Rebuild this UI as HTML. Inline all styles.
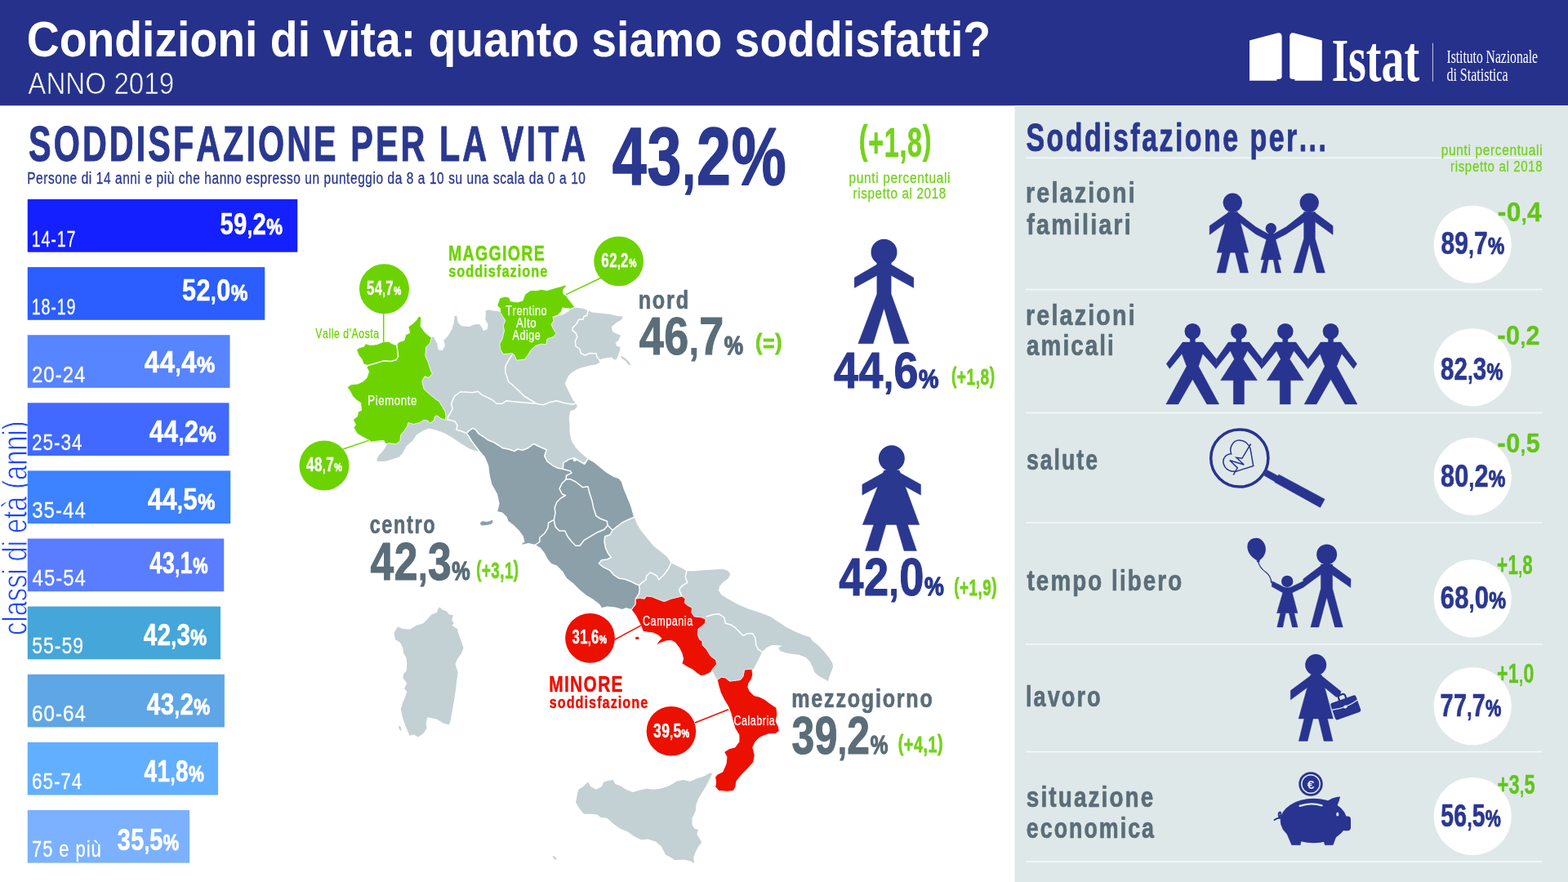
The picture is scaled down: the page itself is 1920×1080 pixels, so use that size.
<!DOCTYPE html>
<html lang="it">
<head>
<meta charset="utf-8">
<title>Condizioni di vita: quanto siamo soddisfatti? - Anno 2019</title>
<style>
html,body{margin:0;padding:0;background:#fff;overflow:hidden}
body{width:1920px;height:1080px}
svg{display:block}
text{font-family:"Liberation Sans",sans-serif;font-kerning:none;white-space:pre}
text.b{font-weight:bold}
text.r{font-weight:normal}
text.sr{font-family:"Liberation Serif",serif;font-weight:normal}
text.sb{font-family:"Liberation Serif",serif;font-weight:bold}
</style>
</head>
<body>
<svg width="1920" height="1080" viewBox="0 0 1920 1080">
<rect width="1920" height="1080" fill="#ffffff"/>
<g id="header">
<rect x="0" y="0" width="1920" height="129.3" fill="#25318b"/>
<text class="b" x="32.73" y="69.30" font-size="60.50" textLength="1180.46" lengthAdjust="spacingAndGlyphs" fill="#ffffff">Condizioni di vita: quanto siamo soddisfatti?</text>
<text class="r" x="34.24" y="115.00" font-size="36.30" textLength="179.04" lengthAdjust="spacingAndGlyphs" fill="#ffffff" stroke="#25318b" stroke-width="0.7">ANNO 2019</text>
<path d="M1530 49.5 L1564 40.4 Q1569.6 39.3 1569.6 45 L1569.6 94.3 Q1569.6 96.6 1567 96.8 L1563.4 97 L1563.4 98.8 L1530 98.8 Z" fill="#ffffff"/>
<path d="M1618.8 49.5 L1584.8 40.4 Q1579.2 39.3 1579.2 45 L1579.2 94.3 Q1579.2 96.6 1581.8 96.8 L1585.4 97 L1585.4 98.8 L1618.8 98.8 Z" fill="#ffffff"/>
<text class="sb" x="1630.63" y="99.20" font-size="74.80" textLength="107.61" lengthAdjust="spacingAndGlyphs" fill="#ffffff">I<tspan font-size="80.00">stat</tspan></text>
<rect x="1753.9" y="52.8" width="1" height="47" fill="#ffffff" opacity="0.75"/>
<text class="sr" x="1771.44" y="77.30" font-size="22.30" textLength="111.51" lengthAdjust="spacingAndGlyphs" fill="#ffffff">Istituto Nazionale</text>
<text class="sr" x="1771.42" y="98.80" font-size="22.30" textLength="75.10" lengthAdjust="spacingAndGlyphs" fill="#ffffff">di Statistica</text>
</g>
<g id="panel">
<rect x="1242.5" y="129.3" width="677.5" height="950.7" fill="#dfe8e9"/>
<rect x="1256" y="192.55" width="632.5" height="1.5" fill="#f5f9f9"/>
<rect x="1256" y="353.75" width="632.5" height="1.5" fill="#f5f9f9"/>
<rect x="1256" y="504.75" width="632.5" height="1.5" fill="#f5f9f9"/>
<rect x="1256" y="639.25" width="632.5" height="1.5" fill="#f5f9f9"/>
<rect x="1256" y="788.05" width="632.5" height="1.5" fill="#f5f9f9"/>
<rect x="1256" y="919.85" width="632.5" height="1.5" fill="#f5f9f9"/>
<rect x="1256" y="1054.35" width="632.5" height="1.5" fill="#f5f9f9"/>
<text class="b" x="1256.47" y="185.05" font-size="47.39" textLength="369.91" lengthAdjust="spacingAndGlyphs" fill="#2a3890" stroke="#2a3890" stroke-width="0.90" stroke-linejoin="round" letter-spacing="3.50">Soddisfazione per...</text>
<text class="r" x="1764.76" y="189.60" font-size="18.16" textLength="124.56" lengthAdjust="spacingAndGlyphs" fill="#74d21c" stroke="#74d21c" stroke-width="0.30" stroke-linejoin="round" letter-spacing="0.80">punti percentuali</text>
<text class="r" x="1776.05" y="209.60" font-size="18.16" textLength="113.21" lengthAdjust="spacingAndGlyphs" fill="#74d21c" stroke="#74d21c" stroke-width="0.30" stroke-linejoin="round" letter-spacing="0.80">rispetto al 2018</text>
<text class="b" x="1255.96" y="248.40" font-size="34.48" textLength="135.89" lengthAdjust="spacingAndGlyphs" fill="#5a6d79" stroke="#5a6d79" stroke-width="0.70" stroke-linejoin="round" letter-spacing="2.60">relazioni</text>
<text class="b" x="1257.36" y="287.15" font-size="34.48" textLength="129.48" lengthAdjust="spacingAndGlyphs" fill="#5a6d79" stroke="#5a6d79" stroke-width="0.70" stroke-linejoin="round" letter-spacing="2.60">familiari</text>
<text class="b" x="1255.96" y="397.95" font-size="34.48" textLength="135.89" lengthAdjust="spacingAndGlyphs" fill="#5a6d79" stroke="#5a6d79" stroke-width="0.70" stroke-linejoin="round" letter-spacing="2.60">relazioni</text>
<text class="b" x="1257.04" y="435.15" font-size="34.48" textLength="108.88" lengthAdjust="spacingAndGlyphs" fill="#5a6d79" stroke="#5a6d79" stroke-width="0.70" stroke-linejoin="round" letter-spacing="2.60">amicali</text>
<text class="b" x="1256.91" y="575.35" font-size="34.48" textLength="89.06" lengthAdjust="spacingAndGlyphs" fill="#5a6d79" stroke="#5a6d79" stroke-width="0.70" stroke-linejoin="round" letter-spacing="2.60">salute</text>
<text class="b" x="1257.51" y="723.35" font-size="34.48" textLength="191.72" lengthAdjust="spacingAndGlyphs" fill="#5a6d79" stroke="#5a6d79" stroke-width="0.70" stroke-linejoin="round" letter-spacing="2.60">tempo libero</text>
<text class="b" x="1255.95" y="865.35" font-size="34.48" textLength="93.81" lengthAdjust="spacingAndGlyphs" fill="#5a6d79" stroke="#5a6d79" stroke-width="0.70" stroke-linejoin="round" letter-spacing="2.60">lavoro</text>
<text class="b" x="1256.87" y="987.85" font-size="34.48" textLength="157.54" lengthAdjust="spacingAndGlyphs" fill="#5a6d79" stroke="#5a6d79" stroke-width="0.70" stroke-linejoin="round" letter-spacing="2.60">situazione</text>
<text class="b" x="1256.80" y="1025.75" font-size="34.48" textLength="158.20" lengthAdjust="spacingAndGlyphs" fill="#5a6d79" stroke="#5a6d79" stroke-width="0.70" stroke-linejoin="round" letter-spacing="2.60">economica</text>
<circle cx="1803.2" cy="299.2" r="47.5" fill="#ffffff"/>
<text class="b" x="1764.40" y="310.90" font-size="39.68" textLength="78.05" lengthAdjust="spacingAndGlyphs" fill="#2a3890" stroke="#2a3890" stroke-width="0.70" stroke-linejoin="round" letter-spacing="0.40">89<tspan font-size="30.73">,</tspan><tspan>7</tspan><tspan font-size="29.98" stroke="#2a3890" stroke-width="1.08">%</tspan></text>
<text class="b" x="1833.71" y="270.70" font-size="33.62" textLength="54.48" lengthAdjust="spacingAndGlyphs" fill="#62c51a" stroke="#62c51a" stroke-width="0.40" stroke-linejoin="round" letter-spacing="0.50">-0<tspan font-size="26.09">,</tspan><tspan>4</tspan></text>
<circle cx="1803.2" cy="449.75" r="47.5" fill="#ffffff"/>
<text class="b" x="1763.92" y="465.15" font-size="39.68" textLength="76.62" lengthAdjust="spacingAndGlyphs" fill="#2a3890" stroke="#2a3890" stroke-width="0.70" stroke-linejoin="round" letter-spacing="0.40">82<tspan font-size="30.73">,</tspan><tspan>3</tspan><tspan font-size="29.98" stroke="#2a3890" stroke-width="1.08">%</tspan></text>
<text class="b" x="1833.51" y="421.95" font-size="33.62" textLength="52.47" lengthAdjust="spacingAndGlyphs" fill="#62c51a" stroke="#62c51a" stroke-width="0.40" stroke-linejoin="round" letter-spacing="0.50">-0<tspan font-size="26.09">,</tspan><tspan>2</tspan></text>
<circle cx="1803.2" cy="583.25" r="47.5" fill="#ffffff"/>
<text class="b" x="1763.88" y="595.90" font-size="39.68" textLength="79.69" lengthAdjust="spacingAndGlyphs" fill="#2a3890" stroke="#2a3890" stroke-width="0.70" stroke-linejoin="round" letter-spacing="0.40">80<tspan font-size="30.73">,</tspan><tspan>2</tspan><tspan font-size="29.98" stroke="#2a3890" stroke-width="1.08">%</tspan></text>
<text class="b" x="1833.51" y="554.45" font-size="33.62" textLength="52.60" lengthAdjust="spacingAndGlyphs" fill="#62c51a" stroke="#62c51a" stroke-width="0.40" stroke-linejoin="round" letter-spacing="0.50">-0<tspan font-size="26.09">,</tspan><tspan>5</tspan></text>
<circle cx="1803.2" cy="732.75" r="47.5" fill="#ffffff"/>
<text class="b" x="1763.72" y="744.65" font-size="39.68" textLength="80.61" lengthAdjust="spacingAndGlyphs" fill="#2a3890" stroke="#2a3890" stroke-width="0.70" stroke-linejoin="round" letter-spacing="0.40">68<tspan font-size="30.73">,</tspan><tspan>0</tspan><tspan font-size="29.98" stroke="#2a3890" stroke-width="1.08">%</tspan></text>
<text class="b" x="1833.01" y="703.20" font-size="33.62" textLength="44.06" lengthAdjust="spacingAndGlyphs" fill="#62c51a" stroke="#62c51a" stroke-width="0.40" stroke-linejoin="round" letter-spacing="0.50">+1<tspan font-size="26.09">,</tspan><tspan>8</tspan></text>
<circle cx="1803.2" cy="864.75" r="47.5" fill="#ffffff"/>
<text class="b" x="1763.61" y="876.65" font-size="39.68" textLength="74.90" lengthAdjust="spacingAndGlyphs" fill="#2a3890" stroke="#2a3890" stroke-width="0.70" stroke-linejoin="round" letter-spacing="0.40">77<tspan font-size="30.73">,</tspan><tspan>7</tspan><tspan font-size="29.98" stroke="#2a3890" stroke-width="1.08">%</tspan></text>
<text class="b" x="1832.98" y="835.70" font-size="33.62" textLength="45.61" lengthAdjust="spacingAndGlyphs" fill="#62c51a" stroke="#62c51a" stroke-width="0.40" stroke-linejoin="round" letter-spacing="0.50">+1<tspan font-size="26.09">,</tspan><tspan>0</tspan></text>
<circle cx="1803.2" cy="999.5" r="47.5" fill="#ffffff"/>
<text class="b" x="1764.28" y="1011.65" font-size="39.68" textLength="73.92" lengthAdjust="spacingAndGlyphs" fill="#2a3890" stroke="#2a3890" stroke-width="0.70" stroke-linejoin="round" letter-spacing="0.40">56<tspan font-size="30.73">,</tspan><tspan>5</tspan><tspan font-size="29.98" stroke="#2a3890" stroke-width="1.08">%</tspan></text>
<text class="b" x="1833.41" y="971.90" font-size="33.62" textLength="46.60" lengthAdjust="spacingAndGlyphs" fill="#62c51a" stroke="#62c51a" stroke-width="0.40" stroke-linejoin="round" letter-spacing="0.50">+3<tspan font-size="26.09">,</tspan><tspan>5</tspan></text>
<circle cx="1509.3" cy="248.3" r="11.7" fill="#28348f"/>
<path d="M1503.9 259.5 L1515.4 259.5 L1528.8 309.3 L1490.1 309.3Z" fill="#28348f" stroke="#28348f" stroke-width="0.4" stroke-linejoin="round"/>
<path d="M1504.5 260.0 L1481.1 276.6 L1481.1 287.4 L1502.5 271.7Z" fill="#28348f" stroke="#28348f" stroke-width="0.4" stroke-linejoin="round"/>
<path d="M1514.8 260.0 L1537.6 277.8 L1553.0 286.5 L1552.0 294.0 L1537.6 286.8 L1517.5 271.7Z" fill="#28348f" stroke="#28348f" stroke-width="0.4" stroke-linejoin="round"/>
<path d="M1496.7 309.0 L1506.3 309.0 L1500.7 334.1 L1490.1 334.1Z" fill="#28348f" stroke="#28348f" stroke-width="0.4" stroke-linejoin="round"/>
<path d="M1512.3 309.0 L1522.6 309.0 L1528.6 334.1 L1518.6 334.1Z" fill="#28348f" stroke="#28348f" stroke-width="0.4" stroke-linejoin="round"/>
<circle cx="1556.3" cy="279.8" r="6.7" fill="#28348f"/>
<path d="M1552.7 286.0 L1559.9 286.0 L1568.9 318.1 L1543.9 318.1Z" fill="#28348f" stroke="#28348f" stroke-width="0.4" stroke-linejoin="round"/>
<path d="M1547.8 318.0 L1553.3 318.0 L1550.5 334.1 L1543.9 334.1Z" fill="#28348f" stroke="#28348f" stroke-width="0.4" stroke-linejoin="round"/>
<path d="M1559.3 318.0 L1564.7 318.0 L1568.7 334.1 L1562.0 334.1Z" fill="#28348f" stroke="#28348f" stroke-width="0.4" stroke-linejoin="round"/>
<circle cx="1603.2" cy="248.3" r="11.7" fill="#28348f"/>
<path d="M1596.6 259.5 L1610.4 259.5 L1610.4 292.2 L1622.5 334.1 L1612.2 334.1 L1603.4 298.8 L1594.2 334.1 L1583.9 334.1 L1596.6 292.2Z" fill="#28348f" stroke="#28348f" stroke-width="0.4" stroke-linejoin="round"/>
<path d="M1597.5 260.0 L1574.9 277.8 L1559.5 286.5 L1560.5 294.0 L1574.9 286.8 L1597.0 271.7Z" fill="#28348f" stroke="#28348f" stroke-width="0.4" stroke-linejoin="round"/>
<path d="M1609.8 260.0 L1632.1 276.6 L1632.1 287.4 L1610.4 271.7Z" fill="#28348f" stroke="#28348f" stroke-width="0.4" stroke-linejoin="round"/>
<circle cx="1460.3" cy="405.8" r="9.8" fill="#28348f"/>
<path d="M1457.2 413.8 L1463.4 413.8 L1463.4 420.1 L1457.2 420.1Z" fill="#28348f" stroke="#28348f" stroke-width="0.4" stroke-linejoin="round"/>
<path d="M1448.2 419.1 L1472.7 419.1 L1489.5 439.8 L1488.8 451.5 L1485.0 447.0 L1472.7 433.2 L1467.6 448.5 L1492.7 494.9 L1477.8 494.9 L1460.3 464.6 L1442.8 494.9 L1427.8 494.9 L1453.0 448.5 L1447.2 433.2 L1432.2 451.5 L1428.2 445.6Z" fill="#28348f" stroke="#28348f" stroke-width="0.4" stroke-linejoin="round"/>
<circle cx="1516.9" cy="405.8" r="9.8" fill="#28348f"/>
<path d="M1513.8 413.8 L1520.0 413.8 L1520.0 420.1 L1513.8 420.1Z" fill="#28348f" stroke="#28348f" stroke-width="0.4" stroke-linejoin="round"/>
<path d="M1504.1 419.1 L1529.6 419.1 L1545.6 439.8 L1544.9 451.5 L1541.2 446.4 L1527.4 429.6 L1522.3 439.8 L1539.5 465.8 L1523.5 465.8 L1523.5 494.9 L1510.3 494.9 L1510.3 465.8 L1494.6 465.8 L1511.4 439.8 L1506.5 429.6 L1492.4 447.0 L1488.8 451.5 L1489.5 439.8Z" fill="#28348f" stroke="#28348f" stroke-width="0.4" stroke-linejoin="round"/>
<circle cx="1573.8" cy="405.8" r="9.8" fill="#28348f"/>
<path d="M1570.7 413.8 L1576.9 413.8 L1576.9 420.1 L1570.7 420.1Z" fill="#28348f" stroke="#28348f" stroke-width="0.4" stroke-linejoin="round"/>
<path d="M1560.9 419.1 L1586.8 419.1 L1601.8 439.8 L1601.5 451.5 L1598.1 446.4 L1584.3 429.6 L1579.2 439.8 L1596.2 465.8 L1580.2 465.8 L1580.2 494.9 L1567.2 494.9 L1567.2 465.8 L1551.2 465.8 L1568.2 439.8 L1563.1 429.6 L1549.3 446.4 L1544.9 451.5 L1545.6 439.8Z" fill="#28348f" stroke="#28348f" stroke-width="0.4" stroke-linejoin="round"/>
<circle cx="1629.5" cy="405.8" r="9.8" fill="#28348f"/>
<path d="M1626.4 413.8 L1632.6 413.8 L1632.6 420.1 L1626.4 420.1Z" fill="#28348f" stroke="#28348f" stroke-width="0.4" stroke-linejoin="round"/>
<path d="M1617.1 419.1 L1641.9 419.1 L1661.6 445.6 L1657.5 451.5 L1642.9 433.2 L1636.8 448.5 L1662.0 494.9 L1647.0 494.9 L1629.5 464.6 L1612.0 494.9 L1597.1 494.9 L1622.2 448.5 L1616.4 433.2 L1605.4 447.0 L1601.5 451.5 L1601.8 439.8Z" fill="#28348f" stroke="#28348f" stroke-width="0.4" stroke-linejoin="round"/>
<circle cx="1517.8" cy="561" r="35.1" fill="none" stroke="#28348f" stroke-width="3.5"/>
<path d="M1551.6 575.4 L1547.8 582.2 L1562.2 590.6 L1566.0 583.2Z" fill="#28348f" stroke="#28348f" stroke-width="0.4" stroke-linejoin="round"/>
<path d="M1565.9 580.9 L1560.8 590.6 L1616.6 621.4 L1622.2 611.2Z" fill="#28348f" stroke="#28348f" stroke-width="0.4" stroke-linejoin="round"/>
<path d="M1507.7 555.7 C1504.6 548.6 1509.7 538.9 1517.4 538.9 C1524.0 538.9 1529.1 543.5 1531.1 549.6 L1534.7 570.5 L1514.8 576.9 C1507.7 578.6 1499.5 575.1 1498.0 566.9 C1497.0 560.8 1501.6 555.7 1507.7 555.7Z" fill="none" stroke="#28348f" stroke-width="1.5"/>
<path d="M1531.6 543.5 L1520.9 561.3 L1514.0 560.3 L1523.2 569.0 L1505.8 563.7 L1515.3 573.0 L1510.2 581.7" fill="none" stroke="#28348f" stroke-width="1.5"/>
<path d="M1540.7 686.8 C1533.2 683.6 1526.8 676.6 1527.4 668.5 C1527.9 661.6 1533.2 658.7 1538.4 658.7 C1544.7 658.7 1549.9 665.1 1549.9 672.6 C1549.9 678.9 1545.9 684.7 1540.7 686.8Z" fill="#28348f"/>
<path d="M1539.3 685.5 L1542.5 685.5 L1542.0 688.3 L1539.0 688.0Z" fill="#28348f" stroke="#28348f" stroke-width="0.4" stroke-linejoin="round"/>
<path d="M1540.7 687 C1541.5 693 1546 698 1550.5 701 C1555 704.5 1556.5 709 1556.8 714" fill="none" stroke="#28348f" stroke-width="1.3"/>
<circle cx="1576.2" cy="711.9" r="7.2" fill="#28348f"/>
<path d="M1572.5 719.5 L1580.6 719.5 L1589.0 750.7 L1563.5 750.7Z" fill="#28348f" stroke="#28348f" stroke-width="0.4" stroke-linejoin="round"/>
<path d="M1557.5 711.4 L1574.0 719.8 L1573.0 727.0 L1557.2 718.3Z" fill="#28348f" stroke="#28348f" stroke-width="0.4" stroke-linejoin="round"/>
<path d="M1596.2 711.4 L1579.0 719.8 L1580.0 727.0 L1596.5 718.9Z" fill="#28348f" stroke="#28348f" stroke-width="0.4" stroke-linejoin="round"/>
<path d="M1567.9 750.4 L1574.3 750.4 L1570.8 767.9 L1563.8 767.9Z" fill="#28348f" stroke="#28348f" stroke-width="0.4" stroke-linejoin="round"/>
<path d="M1578.3 750.4 L1584.7 750.4 L1589.1 767.9 L1582.4 767.9Z" fill="#28348f" stroke="#28348f" stroke-width="0.4" stroke-linejoin="round"/>
<circle cx="1624.6" cy="678.9" r="12.5" fill="#28348f"/>
<path d="M1617.4 691.0 L1631.6 691.0 L1631.6 720.6 L1644.3 767.9 L1634.5 767.9 L1624.6 731.6 L1614.8 767.9 L1604.9 767.9 L1617.4 720.6Z" fill="#28348f" stroke="#28348f" stroke-width="0.4" stroke-linejoin="round"/>
<path d="M1618.5 691.8 L1595.7 709.0 L1596.3 718.9 L1617.6 703.3Z" fill="#28348f" stroke="#28348f" stroke-width="0.4" stroke-linejoin="round"/>
<path d="M1630.4 691.8 L1654.1 709.0 L1653.8 719.5 L1631.4 703.8Z" fill="#28348f" stroke="#28348f" stroke-width="0.4" stroke-linejoin="round"/>
<circle cx="1611.2" cy="814.1" r="13.0" fill="#28348f"/>
<path d="M1605.1 826.0 L1617.9 826.0 L1632.4 880.1 L1590.1 880.1Z" fill="#28348f" stroke="#28348f" stroke-width="0.4" stroke-linejoin="round"/>
<path d="M1605.6 826.8 L1580.3 845.6 L1580.3 856.9 L1603.6 839.8Z" fill="#28348f" stroke="#28348f" stroke-width="0.4" stroke-linejoin="round"/>
<path d="M1617.4 826.8 L1642.2 846.7 L1640.5 851.0 L1636.4 853.7 L1619.4 839.8Z" fill="#28348f" stroke="#28348f" stroke-width="0.4" stroke-linejoin="round"/>
<path d="M1597.0 879.8 L1608.0 879.8 L1601.1 907.5 L1590.3 907.5Z" fill="#28348f" stroke="#28348f" stroke-width="0.4" stroke-linejoin="round"/>
<path d="M1614.4 879.8 L1625.4 879.8 L1632.0 907.5 L1621.1 907.5Z" fill="#28348f" stroke="#28348f" stroke-width="0.4" stroke-linejoin="round"/>
<g transform="rotate(-19.5 1647.7 866.2)">
<rect x="1631.2" y="855.6" width="33" height="21.6" rx="2.6" fill="#28348f"/>
<path d="M1643.4 856 L1643.4 852.3 Q1643.4 849.6 1646 849.6 L1649.4 849.6 Q1652 849.6 1652 852.3 L1652 856" fill="none" stroke="#28348f" stroke-width="2.2"/>
<path d="M1631.2 863.6 Q1647.7 867.6 1664.2 862.6" fill="none" stroke="#dfe8e9" stroke-width="1.3"/>
<ellipse cx="1647.7" cy="865.4" rx="2.4" ry="1.8" fill="#dfe8e9"/>
</g>
<circle cx="1605.0" cy="960.0" r="14.7" fill="#28348f"/>
<circle cx="1605" cy="960" r="11.2" fill="none" stroke="#dfe8e9" stroke-width="1.5"/>
<text class="b" x="1605" y="965.6" font-size="15.5" text-anchor="middle" fill="#dfe8e9">€</text>
<ellipse cx="1608.5" cy="1005" rx="40.8" ry="27.2" fill="#28348f"/>
<path d="M1624 982 Q1632 976 1641.1 975.6 Q1640 981 1637 987.5 L1630 992 Z" fill="#28348f"/>
<rect x="1643" y="999.4" width="11" height="17.8" rx="4" fill="#28348f"/>
<path d="M1574.5 1018.0 L1594.5 1024.0 L1592.2 1034.7 L1581.7 1034.7Z" fill="#28348f" stroke="#28348f" stroke-width="0.4" stroke-linejoin="round"/>
<path d="M1620.0 1025.0 L1638.5 1018.0 L1632.2 1034.7 L1622.2 1034.7Z" fill="#28348f" stroke="#28348f" stroke-width="0.4" stroke-linejoin="round"/>
<path d="M1560.5 1004 Q1563 1002 1566.5 1001.5 Q1564.5 994.5 1567.5 994.5 Q1569.5 996 1567 1001.5 L1570.5 1001.8" fill="none" stroke="#28348f" stroke-width="2" stroke-linecap="round"/>
<path d="M1591.6 986.9 Q1605 982 1618.6 986.3" fill="none" stroke="#dfe8e9" stroke-width="2.3" stroke-linecap="round"/>
<ellipse cx="1637.8" cy="997" rx="1.6" ry="2.5" fill="#dfe8e9"/>
</g>
<g id="bars">
<text class="r" x="-1.38" y="0.00" font-size="42.50" textLength="262.40" lengthAdjust="spacingAndGlyphs" fill="#1c44ff" transform="translate(33 776.5) rotate(-90)" stroke="#ffffff" stroke-width="0.9">classi di età (anni)</text>
<rect x="33.75" y="244.00" width="330.50" height="64.7" fill="#1420ff"/>
<text class="r" x="38.65" y="301.85" font-size="27.56" textLength="54.81" lengthAdjust="spacingAndGlyphs" fill="#ffffff" stroke="#ffffff" stroke-width="0.30" stroke-linejoin="round" letter-spacing="1.20">14-17</text>
<text class="b" x="269.40" y="287.20" font-size="37.13" textLength="77.11" lengthAdjust="spacingAndGlyphs" fill="#ffffff" stroke="#ffffff" stroke-width="0.60" stroke-linejoin="round" letter-spacing="0.60">59<tspan font-size="28.77">,</tspan><tspan>2</tspan><tspan font-size="28.13" stroke="#ffffff" stroke-width="0.98">%</tspan></text>
<rect x="33.75" y="327.10" width="290.50" height="64.7" fill="#2b5dff"/>
<text class="r" x="38.65" y="384.85" font-size="27.56" textLength="54.75" lengthAdjust="spacingAndGlyphs" fill="#ffffff" stroke="#ffffff" stroke-width="0.30" stroke-linejoin="round" letter-spacing="1.20">18-19</text>
<text class="b" x="223.11" y="367.95" font-size="37.13" textLength="80.70" lengthAdjust="spacingAndGlyphs" fill="#ffffff" stroke="#ffffff" stroke-width="0.60" stroke-linejoin="round" letter-spacing="0.60">52<tspan font-size="28.77">,</tspan><tspan>0</tspan><tspan font-size="28.13" stroke="#ffffff" stroke-width="0.98">%</tspan></text>
<rect x="33.75" y="410.20" width="247.75" height="64.7" fill="#5784ff"/>
<text class="r" x="38.95" y="467.85" font-size="27.56" textLength="66.40" lengthAdjust="spacingAndGlyphs" fill="#ffffff" stroke="#ffffff" stroke-width="0.30" stroke-linejoin="round" letter-spacing="1.20">20-24</text>
<text class="b" x="176.80" y="455.95" font-size="37.13" textLength="87.09" lengthAdjust="spacingAndGlyphs" fill="#ffffff" stroke="#ffffff" stroke-width="0.60" stroke-linejoin="round" letter-spacing="0.60">44<tspan font-size="28.77">,</tspan><tspan>4</tspan><tspan font-size="28.13" stroke="#ffffff" stroke-width="0.98">%</tspan></text>
<rect x="33.75" y="493.30" width="246.75" height="64.7" fill="#4169ff"/>
<text class="r" x="39.02" y="550.85" font-size="27.56" textLength="62.58" lengthAdjust="spacingAndGlyphs" fill="#ffffff" stroke="#ffffff" stroke-width="0.30" stroke-linejoin="round" letter-spacing="1.20">25-34</text>
<text class="b" x="183.08" y="540.95" font-size="37.13" textLength="81.99" lengthAdjust="spacingAndGlyphs" fill="#ffffff" stroke="#ffffff" stroke-width="0.60" stroke-linejoin="round" letter-spacing="0.60">44<tspan font-size="28.77">,</tspan><tspan>2</tspan><tspan font-size="28.13" stroke="#ffffff" stroke-width="0.98">%</tspan></text>
<rect x="33.75" y="576.40" width="248.50" height="64.7" fill="#3d82ff"/>
<text class="r" x="39.24" y="633.85" font-size="27.56" textLength="66.56" lengthAdjust="spacingAndGlyphs" fill="#ffffff" stroke="#ffffff" stroke-width="0.30" stroke-linejoin="round" letter-spacing="1.20">35-44</text>
<text class="b" x="181.08" y="624.20" font-size="37.13" textLength="82.76" lengthAdjust="spacingAndGlyphs" fill="#ffffff" stroke="#ffffff" stroke-width="0.60" stroke-linejoin="round" letter-spacing="0.60">44<tspan font-size="28.77">,</tspan><tspan>5</tspan><tspan font-size="28.13" stroke="#ffffff" stroke-width="0.98">%</tspan></text>
<rect x="33.75" y="659.50" width="240.50" height="64.7" fill="#5a7dff"/>
<text class="r" x="39.60" y="716.85" font-size="27.56" textLength="66.18" lengthAdjust="spacingAndGlyphs" fill="#ffffff" stroke="#ffffff" stroke-width="0.30" stroke-linejoin="round" letter-spacing="1.20">45-54</text>
<text class="b" x="183.14" y="702.20" font-size="37.13" textLength="71.80" lengthAdjust="spacingAndGlyphs" fill="#ffffff" stroke="#ffffff" stroke-width="0.60" stroke-linejoin="round" letter-spacing="0.60">43<tspan font-size="28.77">,</tspan><tspan>1</tspan><tspan font-size="28.13" stroke="#ffffff" stroke-width="0.98">%</tspan></text>
<rect x="33.75" y="742.60" width="236.25" height="64.7" fill="#45a6d9"/>
<text class="r" x="39.23" y="799.85" font-size="27.56" textLength="63.81" lengthAdjust="spacingAndGlyphs" fill="#ffffff" stroke="#ffffff" stroke-width="0.30" stroke-linejoin="round" letter-spacing="1.20">55-59</text>
<text class="b" x="175.85" y="789.70" font-size="37.13" textLength="77.71" lengthAdjust="spacingAndGlyphs" fill="#ffffff" stroke="#ffffff" stroke-width="0.60" stroke-linejoin="round" letter-spacing="0.60">42<tspan font-size="28.77">,</tspan><tspan>3</tspan><tspan font-size="28.13" stroke="#ffffff" stroke-width="0.98">%</tspan></text>
<rect x="33.75" y="825.70" width="241.15" height="64.7" fill="#5fa6e6"/>
<text class="r" x="38.92" y="882.85" font-size="27.56" textLength="67.09" lengthAdjust="spacingAndGlyphs" fill="#ffffff" stroke="#ffffff" stroke-width="0.30" stroke-linejoin="round" letter-spacing="1.20">60-64</text>
<text class="b" x="179.75" y="874.60" font-size="37.13" textLength="78.02" lengthAdjust="spacingAndGlyphs" fill="#ffffff" stroke="#ffffff" stroke-width="0.60" stroke-linejoin="round" letter-spacing="0.60">43<tspan font-size="28.77">,</tspan><tspan>2</tspan><tspan font-size="28.13" stroke="#ffffff" stroke-width="0.98">%</tspan></text>
<rect x="33.75" y="908.80" width="233.35" height="64.7" fill="#63afff"/>
<text class="r" x="39.01" y="965.85" font-size="27.56" textLength="62.27" lengthAdjust="spacingAndGlyphs" fill="#ffffff" stroke="#ffffff" stroke-width="0.30" stroke-linejoin="round" letter-spacing="1.20">65-74</text>
<text class="b" x="176.58" y="956.60" font-size="37.13" textLength="73.73" lengthAdjust="spacingAndGlyphs" fill="#ffffff" stroke="#ffffff" stroke-width="0.60" stroke-linejoin="round" letter-spacing="0.60">41<tspan font-size="28.77">,</tspan><tspan>8</tspan><tspan font-size="28.13" stroke="#ffffff" stroke-width="0.98">%</tspan></text>
<rect x="33.75" y="991.90" width="198.35" height="64.7" fill="#7bb1ff"/>
<text class="r" x="39.03" y="1048.85" font-size="27.56" textLength="85.67" lengthAdjust="spacingAndGlyphs" fill="#ffffff" stroke="#ffffff" stroke-width="0.30" stroke-linejoin="round" letter-spacing="1.20">75 e più</text>
<text class="b" x="143.84" y="1040.90" font-size="37.13" textLength="75.70" lengthAdjust="spacingAndGlyphs" fill="#ffffff" stroke="#ffffff" stroke-width="0.60" stroke-linejoin="round" letter-spacing="0.60">35<tspan font-size="28.77">,</tspan><tspan>5</tspan><tspan font-size="28.13" stroke="#ffffff" stroke-width="0.98">%</tspan></text>
</g>
<g id="main">
<text class="b" x="35.06" y="197.00" font-size="60.35" textLength="685.11" lengthAdjust="spacingAndGlyphs" fill="#2a3890" stroke="#2a3890" stroke-width="1.00" stroke-linejoin="round" letter-spacing="4.50">SODDISFAZIONE PER LA VITA</text>
<text class="r" x="33.16" y="225.32" font-size="20.99" textLength="684.36" lengthAdjust="spacingAndGlyphs" fill="#2a3890" stroke="#2a3890" stroke-width="0.35" stroke-linejoin="round" letter-spacing="0.80">Persone di 14 anni e più che hanno espresso un punteggio da 8 a 10 su una scala da 0 a 10</text>
<text class="b" x="749.66" y="226.20" font-size="99.37" textLength="214.16" lengthAdjust="spacingAndGlyphs" fill="#2a3890" stroke="#2a3890" stroke-width="1.60" stroke-linejoin="round" letter-spacing="1.50">43<tspan font-size="77.00">,</tspan><tspan>2%</tspan></text>
<text class="b" x="1051.68" y="192.20" font-size="49.13" textLength="89.59" lengthAdjust="spacingAndGlyphs" fill="#74d21c" stroke="#74d21c" stroke-width="0.60" stroke-linejoin="round" letter-spacing="1.00"><tspan dy="-4.00">(</tspan><tspan dy="4.00">+1,8</tspan><tspan dy="-4.00">)</tspan></text>
<text class="r" x="1039.46" y="224.05" font-size="18.36" textLength="124.71" lengthAdjust="spacingAndGlyphs" fill="#74d21c" stroke="#74d21c" stroke-width="0.30" stroke-linejoin="round" letter-spacing="0.80">punti percentuali</text>
<text class="r" x="1044.44" y="242.85" font-size="18.36" textLength="114.53" lengthAdjust="spacingAndGlyphs" fill="#74d21c" stroke="#74d21c" stroke-width="0.30" stroke-linejoin="round" letter-spacing="0.80">rispetto al 2018</text>
<text class="b" x="781.69" y="377.90" font-size="30.98" textLength="63.16" lengthAdjust="spacingAndGlyphs" fill="#5a6d79" stroke="#5a6d79" stroke-width="0.70" stroke-linejoin="round" letter-spacing="2.20">nord</text>
<text class="b" x="782.74" y="434.45" font-size="65.40" textLength="128.07" lengthAdjust="spacingAndGlyphs" fill="#5a6d79" stroke="#5a6d79" stroke-width="1.10" stroke-linejoin="round" letter-spacing="0.80">46<tspan font-size="50.66">,</tspan><tspan>7</tspan><tspan font-size="31.90" stroke="#5a6d79" stroke-width="1.36">%</tspan></text>
<text class="b" x="924.90" y="430.10" font-size="27.84" textLength="33.41" lengthAdjust="spacingAndGlyphs" fill="#74d21c" stroke="#74d21c" stroke-width="0.80" stroke-linejoin="round" letter-spacing="0.80"><tspan dy="-2.00">(</tspan><tspan dy="2.00">=</tspan><tspan dy="-2.00">)</tspan></text>
<text class="b" x="452.69" y="653.40" font-size="30.98" textLength="81.54" lengthAdjust="spacingAndGlyphs" fill="#5a6d79" stroke="#5a6d79" stroke-width="0.70" stroke-linejoin="round" letter-spacing="2.20">centro</text>
<text class="b" x="453.52" y="710.20" font-size="65.40" textLength="122.73" lengthAdjust="spacingAndGlyphs" fill="#5a6d79" stroke="#5a6d79" stroke-width="1.10" stroke-linejoin="round" letter-spacing="0.80">42<tspan font-size="50.66">,</tspan><tspan>3</tspan><tspan font-size="31.90" stroke="#5a6d79" stroke-width="1.36">%</tspan></text>
<text class="b" x="583.22" y="708.35" font-size="27.84" textLength="52.34" lengthAdjust="spacingAndGlyphs" fill="#74d21c" stroke="#74d21c" stroke-width="0.80" stroke-linejoin="round" letter-spacing="0.80"><tspan dy="-2.00">(</tspan><tspan dy="2.00">+3,1</tspan><tspan dy="-2.00">)</tspan></text>
<text class="b" x="969.30" y="865.75" font-size="30.98" textLength="174.21" lengthAdjust="spacingAndGlyphs" fill="#5a6d79" stroke="#5a6d79" stroke-width="0.70" stroke-linejoin="round" letter-spacing="2.20">mezzogiorno</text>
<text class="b" x="969.41" y="923.35" font-size="65.40" textLength="118.49" lengthAdjust="spacingAndGlyphs" fill="#5a6d79" stroke="#5a6d79" stroke-width="1.10" stroke-linejoin="round" letter-spacing="0.80">39<tspan font-size="50.66">,</tspan><tspan>2</tspan><tspan font-size="31.90" stroke="#5a6d79" stroke-width="1.36">%</tspan></text>
<text class="b" x="1099.72" y="921.10" font-size="27.84" textLength="55.32" lengthAdjust="spacingAndGlyphs" fill="#74d21c" stroke="#74d21c" stroke-width="0.80" stroke-linejoin="round" letter-spacing="0.80"><tspan dy="-2.00">(</tspan><tspan dy="2.00">+4,1</tspan><tspan dy="-2.00">)</tspan></text>
<text class="b" x="1020.99" y="474.95" font-size="62.40" textLength="129.13" lengthAdjust="spacingAndGlyphs" fill="#2a3890" stroke="#2a3890" stroke-width="1.10" stroke-linejoin="round" letter-spacing="0.80">44<tspan font-size="48.32">,</tspan><tspan>6</tspan><tspan font-size="31.90" stroke="#2a3890" stroke-width="1.36">%</tspan></text>
<text class="b" x="1164.95" y="470.85" font-size="27.84" textLength="53.65" lengthAdjust="spacingAndGlyphs" fill="#74d21c" stroke="#74d21c" stroke-width="0.80" stroke-linejoin="round" letter-spacing="0.80"><tspan dy="-2.00">(</tspan><tspan dy="2.00">+1,8</tspan><tspan dy="-2.00">)</tspan></text>
<text class="b" x="1027.23" y="728.95" font-size="64.40" textLength="129.35" lengthAdjust="spacingAndGlyphs" fill="#2a3890" stroke="#2a3890" stroke-width="1.10" stroke-linejoin="round" letter-spacing="0.80">42<tspan font-size="49.88">,</tspan><tspan>0</tspan><tspan font-size="31.90" stroke="#2a3890" stroke-width="1.36">%</tspan></text>
<text class="b" x="1168.21" y="728.60" font-size="27.84" textLength="52.86" lengthAdjust="spacingAndGlyphs" fill="#74d21c" stroke="#74d21c" stroke-width="0.80" stroke-linejoin="round" letter-spacing="0.80"><tspan dy="-2.00">(</tspan><tspan dy="2.00">+1,9</tspan><tspan dy="-2.00">)</tspan></text>
<circle cx="1082.5" cy="308.8" r="16.0" fill="#2a3890"/>
<path d="M1073.8 322.0 L1091.2 322.0 L1091.2 360.0 L1113.2 420.8 L1095.0 420.8 L1082.5 377.5 L1069.2 420.8 L1050.8 420.8 L1073.8 360.0Z" fill="#2a3890" stroke="#2a3890" stroke-width="0.4" stroke-linejoin="round"/>
<path d="M1074.5 323.5 L1046.2 340.0 L1046.2 352.5 L1074.5 337.0Z" fill="#2a3890" stroke="#2a3890" stroke-width="0.4" stroke-linejoin="round"/>
<path d="M1090.5 323.5 L1118.8 340.0 L1118.8 352.5 L1090.5 337.0Z" fill="#2a3890" stroke="#2a3890" stroke-width="0.4" stroke-linejoin="round"/>
<circle cx="1091.8" cy="561.2" r="16.0" fill="#2a3890"/>
<path d="M1082.5 576.0 L1101.2 576.0 L1125.8 642.5 L1056.2 642.5Z" fill="#2a3890" stroke="#2a3890" stroke-width="0.4" stroke-linejoin="round"/>
<path d="M1084.0 577.5 L1055.8 593.2 L1055.8 606.2 L1080.0 593.0Z" fill="#2a3890" stroke="#2a3890" stroke-width="0.4" stroke-linejoin="round"/>
<path d="M1099.5 577.5 L1127.5 593.2 L1127.5 606.2 L1103.5 593.0Z" fill="#2a3890" stroke="#2a3890" stroke-width="0.4" stroke-linejoin="round"/>
<path d="M1070.0 642.0 L1085.0 642.0 L1075.5 674.5 L1059.5 674.5Z" fill="#2a3890" stroke="#2a3890" stroke-width="0.4" stroke-linejoin="round"/>
<path d="M1097.5 642.0 L1111.2 642.0 L1122.5 674.5 L1107.0 674.5Z" fill="#2a3890" stroke="#2a3890" stroke-width="0.4" stroke-linejoin="round"/>
</g>
<g id="map">
<path d="M528.0 413.0 L530.8 412.5 L535.0 420.0 L536.7 428.3 L541.7 429.2 L545.0 423.3 L543.3 416.7 L548.3 411.7 L553.3 403.3 L555.8 395.0 L556.7 386.7 L559.2 386.7 L560.8 395.0 L565.0 399.2 L575.0 400.0 L580.0 397.5 L586.7 396.7 L590.0 400.8 L591.7 405.0 L596.7 403.3 L597.5 396.7 L594.2 391.7 L595.0 385.0 L594.2 380.8 L599.2 379.2 L603.3 380.5 L609.0 381.0 L614.0 382.0 L640.0 400.0 L690.0 385.0 L703.8 376.5 L712.5 377.5 L720.0 380.0 L725.0 382.5 L737.5 383.8 L747.5 385.0 L756.2 386.9 L762.5 387.5 L761.2 391.2 L755.0 395.0 L748.8 400.0 L750.0 406.2 L755.0 408.8 L760.0 410.6 L757.5 416.2 L753.8 420.0 L755.0 423.8 L759.4 425.0 L758.8 430.0 L756.9 435.0 L755.0 440.0 L752.5 440.6 L748.8 437.5 L740.0 438.8 L735.0 440.0 L732.5 438.8 L734.4 443.8 L730.0 446.2 L722.5 447.5 L712.5 450.0 L706.2 452.5 L700.0 456.2 L696.2 460.0 L693.8 465.0 L691.7 470.0 L695.0 476.7 L698.3 483.3 L701.7 490.0 L705.8 494.2 L706.7 498.3 L703.3 501.7 L698.3 503.3 L696.7 511.7 L697.5 520.0 L697.5 530.0 L700.0 540.0 L705.0 548.3 L711.7 555.0 L718.3 560.8 L720.0 561.7 L700.0 580.0 L650.0 570.0 L600.0 560.0 L586.9 552.5 L582.5 551.9 L575.0 549.4 L567.5 545.0 L560.0 540.0 L552.5 535.0 L546.2 531.2 L540.0 528.8 L532.5 526.2 L525.0 524.4 L517.5 527.5 L510.0 532.5 L505.0 540.0 L497.5 546.2 L493.8 553.8 L488.8 559.4 L480.0 562.5 L471.2 565.0 L462.5 565.0 L461.2 562.5 L463.8 557.5 L467.5 553.8 L471.2 548.8 L473.8 543.8 L500.0 520.0 L505.0 470.0 L505.0 430.0 L515.0 410.0Z" fill="#c3d1d4"/>
<path d="M776.7 633.3 L780.0 641.7 L785.0 650.0 L791.7 658.3 L800.0 668.3 L808.3 675.0 L816.7 681.7 L821.7 689.2 L830.0 693.3 L836.7 696.7 L840.8 699.2 L850.0 699.2 L861.7 698.3 L873.3 697.5 L885.0 696.7 L891.7 699.2 L894.2 703.3 L891.7 708.3 L885.0 713.3 L880.8 718.3 L880.0 723.3 L883.3 728.3 L890.0 732.5 L903.3 740.0 L916.7 745.8 L930.0 750.0 L943.3 755.0 L953.3 761.7 L963.3 768.3 L973.3 773.3 L983.3 777.5 L991.7 780.0 L995.0 785.0 L1001.7 790.0 L1008.3 796.7 L1015.0 805.0 L1019.2 811.7 L1020.0 816.7 L1017.5 823.3 L1015.0 830.0 L1014.2 834.2 L1010.0 831.7 L1003.3 828.3 L997.5 823.3 L995.0 816.7 L991.7 810.0 L986.7 805.0 L978.3 801.7 L970.0 800.8 L961.7 799.2 L955.0 796.7 L953.3 793.3 L957.5 790.8 L951.7 790.0 L945.0 790.0 L938.3 793.3 L933.3 798.3 L930.0 805.0 L926.7 811.7 L923.3 818.3 L921.7 820.0 L915.0 835.0 L890.0 838.0 L878.3 832.5 L875.0 826.7 L873.3 823.3 L850.0 790.0 L800.0 750.0 L775.0 730.0 L730.0 700.0 L728.0 685.0 L735.0 665.0 L745.0 652.0 L750.0 649.2 L755.0 645.0 L761.7 640.0 L768.3 636.7Z" fill="#c3d1d4"/>
<path d="M705.0 982.5 L706.7 973.3 L708.3 966.7 L715.0 962.5 L720.0 957.5 L723.3 963.3 L730.0 966.7 L736.7 963.3 L739.2 957.5 L745.0 955.8 L750.8 955.0 L753.3 960.0 L760.0 962.5 L766.7 966.7 L775.0 970.0 L783.3 967.5 L791.7 965.8 L800.0 966.7 L808.3 965.8 L816.7 963.3 L823.3 960.0 L828.3 956.7 L836.7 955.0 L845.0 956.7 L853.3 953.3 L861.7 950.8 L868.3 946.7 L872.5 946.7 L869.2 953.3 L865.0 961.7 L860.0 970.0 L855.0 978.3 L852.5 985.0 L851.7 993.3 L847.5 1001.7 L847.5 1010.0 L850.8 1015.0 L855.0 1015.8 L853.3 1021.7 L856.7 1026.7 L859.2 1031.7 L855.0 1036.7 L851.7 1043.3 L849.2 1050.0 L850.0 1056.7 L845.0 1054.2 L836.7 1052.5 L826.7 1053.3 L820.0 1049.2 L815.0 1046.7 L810.0 1036.7 L803.3 1030.8 L793.3 1027.5 L785.0 1028.3 L776.7 1024.2 L768.3 1018.3 L760.0 1015.0 L751.7 1009.2 L743.3 1001.7 L735.0 1000.8 L731.7 997.5 L723.3 996.7 L715.0 996.7 L710.0 990.8Z" fill="#c3d1d4"/>
<path d="M538.3 743.3 L541.7 746.7 L546.7 748.3 L550.0 752.5 L555.0 753.3 L553.3 759.2 L555.8 763.3 L553.3 765.8 L560.0 770.0 L561.7 776.7 L564.2 783.3 L567.5 793.3 L565.0 800.0 L560.0 806.7 L557.5 813.3 L560.8 823.3 L559.2 833.3 L558.3 843.3 L556.7 853.3 L555.0 863.3 L553.3 873.3 L551.7 881.7 L550.0 887.5 L543.3 885.8 L535.0 880.8 L528.3 879.2 L523.3 878.3 L521.7 885.0 L522.5 891.7 L518.3 898.3 L511.7 902.5 L506.7 899.2 L501.7 900.8 L498.3 893.3 L495.0 885.0 L492.5 876.7 L490.8 868.3 L493.3 860.0 L496.7 851.7 L498.3 846.7 L495.0 843.3 L498.3 836.7 L493.3 830.0 L494.2 825.0 L497.5 821.7 L498.3 813.3 L497.5 805.0 L494.2 800.0 L493.3 793.3 L490.0 786.7 L484.2 783.3 L482.5 775.0 L486.7 767.5 L493.3 770.0 L501.7 770.8 L510.0 765.8 L518.3 763.3 L523.3 758.3 L528.3 752.5 L535.0 750.0 L536.7 745.0Z" fill="#c3d1d4"/>
<path d="M760.0 435.5 L765.0 438.0 L770.0 443.0 L772.5 447.5 L770.0 447.0 L766.0 442.0 L761.0 438.5Z" fill="#c3d1d4"/>
<path d="M676.5 1048.0 L679.0 1048.5 L681.7 1051.5 L681.0 1053.0 L678.0 1051.5Z" fill="#c3d1d4"/>
<path d="M488.3 888.5 L490.5 889.5 L491.7 895.0 L489.5 894.0 L488.3 891.0Z" fill="#c3d1d4"/>
<path d="M628.1 433.1 L625.0 437.5 L621.2 443.8 L618.8 448.8 L618.8 456.2 L621.2 462.5 L622.5 467.5 L627.5 471.2 L635.0 478.3 L641.7 485.0 L650.0 490.0 L656.7 494.2" fill="none" stroke="#ffffff" stroke-width="1.5" stroke-linejoin="round" stroke-linecap="round"/>
<path d="M547.5 513.8 L548.8 510.0 L551.2 506.2 L554.4 500.0 L552.5 495.0 L554.4 490.0 L556.7 485.0 L563.3 480.0 L570.0 480.0 L578.3 480.8 L585.0 479.2 L590.0 483.3 L596.7 486.7 L603.3 490.0 L608.3 494.2 L615.0 494.2 L620.0 490.8 L628.3 491.7 L636.7 492.5 L645.0 493.3 L656.7 494.2 L665.0 495.8 L673.3 492.5 L681.7 490.8 L690.0 493.3 L700.0 495.0 L705.0 494.2" fill="none" stroke="#ffffff" stroke-width="1.5" stroke-linejoin="round" stroke-linecap="round"/>
<path d="M547.5 513.8 L551.2 514.4 L557.5 516.2 L560.0 521.2 L558.8 526.2 L563.8 527.5 L570.0 530.0 L571.2 530.6" fill="none" stroke="#ffffff" stroke-width="1.5" stroke-linejoin="round" stroke-linecap="round"/>
<path d="M720.0 380.0 L718.8 386.2 L715.0 387.5 L713.8 391.2 L708.8 391.2 L706.2 396.2 L701.2 401.2 L701.2 405.0 L705.0 407.5 L706.9 412.5 L704.4 417.5 L705.0 423.8 L710.0 427.5 L711.2 432.5 L716.2 435.0 L722.5 432.5 L730.0 433.1 L731.2 437.5 L732.5 438.8" fill="none" stroke="#ffffff" stroke-width="1.5" stroke-linejoin="round" stroke-linecap="round"/>
<path d="M821.7 689.2 L818.3 696.7 L813.3 703.3 L806.7 710.0 L804.2 705.0 L796.7 700.8 L791.7 705.0 L790.8 710.0 L785.0 714.2 L782.5 716.7" fill="none" stroke="#ffffff" stroke-width="1.5" stroke-linejoin="round" stroke-linecap="round"/>
<path d="M840.8 699.2 L839.2 706.7 L841.7 713.3 L835.0 717.5 L831.7 721.7 L833.3 726.7 L835.0 730.0" fill="none" stroke="#ffffff" stroke-width="1.5" stroke-linejoin="round" stroke-linecap="round"/>
<path d="M865.0 755.0 L873.3 752.5 L880.0 751.7 L886.7 755.8 L888.3 763.3 L895.0 765.0 L900.0 768.3 L905.0 773.3 L910.0 778.3 L915.0 775.8 L921.7 775.8 L925.0 781.7 L925.8 790.0 L928.3 795.0 L933.3 798.3" fill="none" stroke="#ffffff" stroke-width="1.5" stroke-linejoin="round" stroke-linecap="round"/>
<path d="M586.9 552.5 L585.0 550.0 L581.2 545.0 L577.5 540.0 L573.8 533.8 L571.2 530.6 L575.0 526.9 L578.8 524.4 L582.5 526.2 L586.2 531.2 L592.5 535.0 L597.5 538.8 L603.8 541.2 L610.0 545.0 L615.0 548.5 L622.5 550.0 L630.0 552.5 L633.8 550.0 L640.0 551.2 L646.2 548.8 L653.5 543.5 L661.7 547.5 L669.2 550.8 L666.7 558.3 L670.0 565.0 L676.7 570.0 L683.3 573.3 L689.2 574.2 L690.0 566.7 L696.7 562.5 L703.3 560.8 L710.0 565.0 L715.8 568.3 L720.0 561.7 L726.7 565.0 L735.0 571.7 L743.3 578.3 L751.7 583.3 L758.3 585.8 L761.7 590.0 L764.2 598.3 L768.3 608.3 L772.5 618.3 L775.0 626.7 L776.7 633.3 L768.3 636.7 L761.7 640.0 L755.0 645.0 L750.0 649.2 L746.7 655.0 L740.8 656.7 L740.0 663.3 L741.7 671.7 L745.0 678.3 L748.3 682.5 L743.3 685.0 L736.7 685.8 L733.3 690.0 L738.3 694.2 L746.7 698.3 L751.7 704.2 L758.3 708.3 L765.0 709.2 L771.7 711.7 L778.3 715.0 L782.5 716.7 L783.3 721.7 L782.5 726.7 L778.3 733.3 L778.3 740.0 L773.3 746.7 L766.7 745.0 L761.7 746.7 L753.3 744.2 L743.3 743.3 L736.7 745.0 L733.3 740.0 L726.7 735.0 L718.3 730.0 L710.0 723.3 L701.7 715.0 L693.3 708.3 L688.3 700.0 L681.7 693.3 L675.0 690.8 L670.0 685.0 L666.7 678.3 L661.7 671.7 L655.0 667.5 L646.7 665.8 L640.0 667.5 L637.5 665.8 L641.7 663.3 L640.0 656.7 L635.0 650.0 L628.3 643.3 L621.7 638.3 L620.0 633.3 L615.0 628.3 L608.3 626.7 L610.8 616.7 L608.3 605.0 L601.7 593.3 L599.2 583.3 L597.5 570.0 L593.3 560.0Z" fill="#8ba0a9" stroke="#ffffff" stroke-width="1.5" stroke-linejoin="round"/>
<path d="M588.0 640.0 L591.0 638.0 L596.0 639.0 L600.0 638.0 L603.0 636.5 L603.5 639.5 L601.0 642.0 L596.0 643.0 L591.0 643.5 L588.5 642.5Z" fill="#8ba0a9"/>
<circle cx="703.8" cy="563" r="2.2" fill="#ffffff"/>
<path d="M689.2 574.2 L698.3 576.7 L700.0 579.2 L693.3 582.5 L693.3 586.7" fill="none" stroke="#ffffff" stroke-width="1.5" stroke-linejoin="round" stroke-linecap="round"/>
<path d="M693.3 586.7 L688.3 591.7 L685.0 598.3 L688.3 605.0 L692.5 606.7 L686.7 610.0 L681.7 615.0 L679.2 621.7 L680.0 628.3 L678.3 636.7" fill="none" stroke="#ffffff" stroke-width="1.5" stroke-linejoin="round" stroke-linecap="round"/>
<path d="M678.3 636.7 L671.7 640.0 L670.8 646.7 L666.7 653.3 L660.8 658.3 L660.8 663.3 L655.0 667.5" fill="none" stroke="#ffffff" stroke-width="1.5" stroke-linejoin="round" stroke-linecap="round"/>
<path d="M693.3 586.7 L698.3 586.7 L705.0 590.0 L713.3 596.7 L720.0 595.8 L721.7 603.3 L725.0 613.3 L726.7 621.7 L730.0 631.7 L735.0 635.0 L743.3 638.3 L744.2 643.3" fill="none" stroke="#ffffff" stroke-width="1.5" stroke-linejoin="round" stroke-linecap="round"/>
<path d="M678.3 636.7 L680.0 645.0 L685.0 650.0 L691.7 650.0 L695.0 656.7 L700.0 663.3 L705.0 668.3 L710.0 668.3 L715.0 661.7 L723.3 656.7 L731.7 651.7 L740.0 648.3 L744.2 643.3" fill="none" stroke="#ffffff" stroke-width="1.5" stroke-linejoin="round" stroke-linecap="round"/>
<path d="M744.2 643.3 L750.0 649.2" fill="none" stroke="#ffffff" stroke-width="1.5" stroke-linejoin="round" stroke-linecap="round"/>
<path d="M512.5 387.5 L515.8 388.3 L515.0 399.2 L520.0 406.7 L528.3 413.7 L526.7 420.0 L521.7 425.0 L520.8 435.8 L524.2 443.3 L526.7 451.7 L529.2 457.5 L525.0 462.5 L520.0 460.8 L516.7 466.7 L519.2 476.7 L526.7 483.3 L535.0 490.0 L537.5 491.2 L541.2 497.5 L545.0 503.8 L546.2 510.0 L545.0 514.4 L540.0 512.5 L535.0 508.8 L532.5 510.0 L531.2 515.0 L526.2 518.1 L523.8 515.0 L518.8 514.4 L513.8 517.5 L506.2 519.4 L500.0 517.5 L498.8 521.9 L495.0 527.5 L490.6 532.5 L490.0 540.0 L485.0 543.8 L476.2 542.5 L472.5 543.8 L470.0 539.4 L462.5 540.0 L455.0 541.2 L451.2 538.8 L445.0 535.6 L437.5 531.2 L433.1 523.8 L435.6 520.0 L432.5 513.8 L437.5 510.0 L438.8 503.8 L442.5 502.5 L441.7 493.3 L436.7 490.0 L431.7 485.0 L428.3 478.3 L425.0 474.2 L430.0 470.8 L438.3 470.0 L445.0 466.7 L449.2 462.5 L451.7 455.0 L449.2 450.0 L450.8 447.5 L445.0 445.8 L443.3 440.0 L439.2 435.0 L436.7 428.3 L440.0 425.8 L445.8 424.2 L447.5 420.8 L453.3 422.5 L461.7 421.7 L470.0 418.3 L475.8 418.3 L480.0 420.8 L485.0 422.5 L486.7 420.0 L490.0 418.3 L495.0 416.7 L496.7 410.0 L501.7 407.5 L500.0 400.0 L505.0 396.7 L510.0 391.7Z" fill="#6dd300" stroke="#ffffff" stroke-width="0.8" stroke-linejoin="round"/>
<path d="M450.8 447.5 L461.7 444.2 L470.0 441.7 L478.3 442.5 L485.0 440.8 L487.5 436.7 L486.7 428.3 L485.8 422.5 L486.7 420.0" fill="none" stroke="#ffffff" stroke-width="1.5" stroke-linejoin="round" stroke-linecap="round"/>
<path d="M608.8 374.4 L611.9 365.0 L618.8 363.1 L623.8 364.4 L625.0 368.8 L633.8 370.0 L640.0 368.1 L643.1 360.0 L650.0 355.6 L657.5 355.6 L662.5 354.4 L670.0 355.6 L680.0 352.5 L687.5 350.6 L692.5 348.8 L693.1 350.6 L689.4 355.0 L690.0 360.0 L693.1 361.9 L696.2 366.2 L700.0 371.2 L703.8 376.2 L698.8 378.1 L692.5 377.5 L688.8 376.9 L687.5 381.2 L682.5 386.2 L676.9 388.1 L678.1 392.5 L675.0 397.5 L678.1 403.8 L681.2 408.1 L677.5 412.5 L670.0 415.0 L668.8 421.9 L662.5 421.2 L655.0 423.8 L650.0 428.8 L646.2 435.0 L642.5 440.0 L632.5 441.2 L630.0 435.0 L627.5 432.5 L616.2 433.8 L612.5 427.5 L611.9 421.2 L615.0 415.0 L617.5 405.0 L616.2 398.8 L618.8 392.5 L615.6 387.5 L612.5 382.5 L612.5 377.5Z" fill="#6dd300" stroke="#ffffff" stroke-width="0.8" stroke-linejoin="round"/>
<path d="M773.3 746.7 L778.3 740.0 L778.3 733.3 L783.3 732.5 L789.2 733.3 L791.7 730.0 L798.3 730.8 L806.7 734.2 L813.3 736.7 L821.7 733.3 L828.3 731.7 L835.0 730.0 L839.2 733.3 L838.3 738.3 L842.5 741.7 L847.5 744.2 L846.7 750.0 L850.0 755.0 L858.3 755.8 L864.2 758.3 L863.3 763.3 L858.3 767.5 L855.0 770.0 L854.2 776.7 L856.7 783.3 L860.0 785.0 L860.0 790.0 L865.0 795.0 L870.0 803.3 L876.7 808.3 L877.5 813.3 L873.3 818.3 L870.0 823.3 L863.3 826.7 L858.3 827.5 L853.3 824.2 L848.3 820.0 L841.7 816.7 L835.0 812.5 L836.7 806.7 L835.0 800.0 L831.7 793.3 L826.7 786.7 L821.7 784.2 L815.0 785.0 L808.3 787.5 L803.3 790.0 L806.7 785.0 L810.0 781.7 L806.7 778.3 L800.0 775.0 L793.3 774.2 L787.5 773.3 L785.0 766.7 L781.7 760.0 L778.3 753.3Z" fill="#ec1000" stroke="#ffffff" stroke-width="0.8" stroke-linejoin="round"/>
<path d="M778.0 780.5 L781.0 779.5 L783.0 781.5 L781.0 783.0 L778.0 782.5Z" fill="#ec1000"/>
<path d="M878.3 832.5 L883.3 829.2 L888.3 830.0 L893.3 834.2 L901.7 833.3 L906.7 832.5 L910.0 828.3 L911.7 820.0 L920.8 819.2 L921.7 826.7 L920.0 831.7 L916.7 836.7 L915.8 841.7 L918.3 846.7 L923.3 851.7 L930.0 853.3 L936.7 856.7 L943.3 861.7 L950.8 866.7 L951.7 875.0 L950.0 883.3 L953.3 890.0 L954.2 895.0 L950.0 898.3 L940.6 898.9 L933.3 901.7 L929.4 903.6 L925.0 908.3 L921.7 915.0 L924.2 925.0 L922.5 933.3 L916.7 940.0 L908.3 948.3 L901.7 956.7 L900.8 963.3 L898.3 968.3 L890.0 969.2 L880.0 968.3 L875.8 963.3 L876.7 958.3 L875.8 951.7 L878.3 948.3 L885.0 945.0 L889.2 935.0 L890.0 926.7 L886.7 920.8 L893.3 916.7 L900.0 915.0 L905.0 908.3 L905.0 900.0 L900.0 891.7 L897.5 883.3 L895.0 873.3 L891.7 865.0 L886.7 856.7 L882.5 848.3 L880.0 840.0Z" fill="#ec1000" stroke="#ffffff" stroke-width="0.8" stroke-linejoin="round"/>
<line x1="469.7" y1="383" x2="469.7" y2="418.5" stroke="#6dd300" stroke-width="1.5"/>
<line x1="736.5" y1="340" x2="693.1" y2="360.6" stroke="#6dd300" stroke-width="1.5"/>
<line x1="420" y1="550" x2="451.5" y2="539.4" stroke="#6dd300" stroke-width="1.5"/>
<line x1="752.5" y1="783.3" x2="785" y2="765.8" stroke="#ec1000" stroke-width="1.5"/>
<line x1="851" y1="885" x2="892" y2="868.7" stroke="#ec1000" stroke-width="1.5"/>
<circle cx="470.5" cy="353.75" r="30.5" fill="#6dd300"/>
<circle cx="757.6" cy="319.8" r="30.4" fill="#6dd300"/>
<circle cx="397" cy="570" r="30.5" fill="#6dd300"/>
<circle cx="722.5" cy="781.3" r="30.4" fill="#ec1000"/>
<circle cx="821.9" cy="895.3" r="30.3" fill="#ec1000"/>
<text class="b" x="448.94" y="361.05" font-size="23.02" textLength="42.82" lengthAdjust="spacingAndGlyphs" fill="#ffffff" stroke="#ffffff" stroke-width="0.40" stroke-linejoin="round" letter-spacing="0.60">54<tspan font-size="17.83">,</tspan><tspan>7</tspan><tspan font-size="14.42" stroke="#ffffff" stroke-width="0.56">%</tspan></text>
<text class="b" x="736.33" y="327.10" font-size="23.02" textLength="43.44" lengthAdjust="spacingAndGlyphs" fill="#ffffff" stroke="#ffffff" stroke-width="0.40" stroke-linejoin="round" letter-spacing="0.60">62<tspan font-size="17.83">,</tspan><tspan>2</tspan><tspan font-size="14.42" stroke="#ffffff" stroke-width="0.56">%</tspan></text>
<text class="b" x="374.94" y="577.30" font-size="23.02" textLength="44.35" lengthAdjust="spacingAndGlyphs" fill="#ffffff" stroke="#ffffff" stroke-width="0.40" stroke-linejoin="round" letter-spacing="0.60">48<tspan font-size="17.83">,</tspan><tspan>7</tspan><tspan font-size="14.42" stroke="#ffffff" stroke-width="0.56">%</tspan></text>
<text class="b" x="700.62" y="788.10" font-size="23.02" textLength="42.89" lengthAdjust="spacingAndGlyphs" fill="#ffffff" stroke="#ffffff" stroke-width="0.40" stroke-linejoin="round" letter-spacing="0.60">31<tspan font-size="17.83">,</tspan><tspan>6</tspan><tspan font-size="14.42" stroke="#ffffff" stroke-width="0.56">%</tspan></text>
<text class="b" x="800.10" y="902.60" font-size="23.02" textLength="44.64" lengthAdjust="spacingAndGlyphs" fill="#ffffff" stroke="#ffffff" stroke-width="0.40" stroke-linejoin="round" letter-spacing="0.60">39<tspan font-size="17.83">,</tspan><tspan>5</tspan><tspan font-size="14.42" stroke="#ffffff" stroke-width="0.56">%</tspan></text>
<text class="b" x="548.94" y="319.00" font-size="26.57" textLength="119.14" lengthAdjust="spacingAndGlyphs" fill="#6dd300" stroke="#6dd300" stroke-width="0.50" stroke-linejoin="round" letter-spacing="1.80">MAGGIORE</text>
<text class="b" x="549.13" y="338.55" font-size="19.82" textLength="122.29" lengthAdjust="spacingAndGlyphs" fill="#6dd300" stroke="#6dd300" stroke-width="0.40" stroke-linejoin="round" letter-spacing="1.30">soddisfazione</text>
<text class="b" x="672.15" y="847.25" font-size="27.17" textLength="91.79" lengthAdjust="spacingAndGlyphs" fill="#ec1000" stroke="#ec1000" stroke-width="0.50" stroke-linejoin="round" letter-spacing="1.80">MINORE</text>
<text class="b" x="672.63" y="866.60" font-size="19.82" textLength="121.68" lengthAdjust="spacingAndGlyphs" fill="#ec1000" stroke="#ec1000" stroke-width="0.40" stroke-linejoin="round" letter-spacing="1.30">soddisfazione</text>
<text class="r" x="386.32" y="413.62" font-size="16.14" textLength="78.34" lengthAdjust="spacingAndGlyphs" fill="#6dd300" stroke="#6dd300" stroke-width="0.25" stroke-linejoin="round" letter-spacing="0.70">Valle d'Aosta</text>
<text class="r" x="450.29" y="495.62" font-size="15.84" textLength="60.77" lengthAdjust="spacingAndGlyphs" fill="#ffffff" stroke="#ffffff" stroke-width="0.25" stroke-linejoin="round" letter-spacing="0.70">Piemonte</text>
<text class="r" x="619.34" y="385.62" font-size="16.34" textLength="50.86" lengthAdjust="spacingAndGlyphs" fill="#ffffff" stroke="#ffffff" stroke-width="0.25" stroke-linejoin="round" letter-spacing="0.70">Trentino</text>
<text class="r" x="632.10" y="400.62" font-size="16.34" textLength="25.15" lengthAdjust="spacingAndGlyphs" fill="#ffffff" stroke="#ffffff" stroke-width="0.25" stroke-linejoin="round" letter-spacing="0.70">Alto</text>
<text class="r" x="627.60" y="415.62" font-size="16.34" textLength="34.61" lengthAdjust="spacingAndGlyphs" fill="#ffffff" stroke="#ffffff" stroke-width="0.25" stroke-linejoin="round" letter-spacing="0.70">Adige</text>
<text class="r" x="786.99" y="765.67" font-size="15.94" textLength="61.74" lengthAdjust="spacingAndGlyphs" fill="#ffffff" stroke="#ffffff" stroke-width="0.25" stroke-linejoin="round" letter-spacing="0.70">Campania</text>
<text class="r" x="898.39" y="888.17" font-size="15.94" textLength="50.93" lengthAdjust="spacingAndGlyphs" fill="#ffffff" stroke="#ffffff" stroke-width="0.25" stroke-linejoin="round" letter-spacing="0.70">Calabria</text>
</g>
</svg>
</body>
</html>
